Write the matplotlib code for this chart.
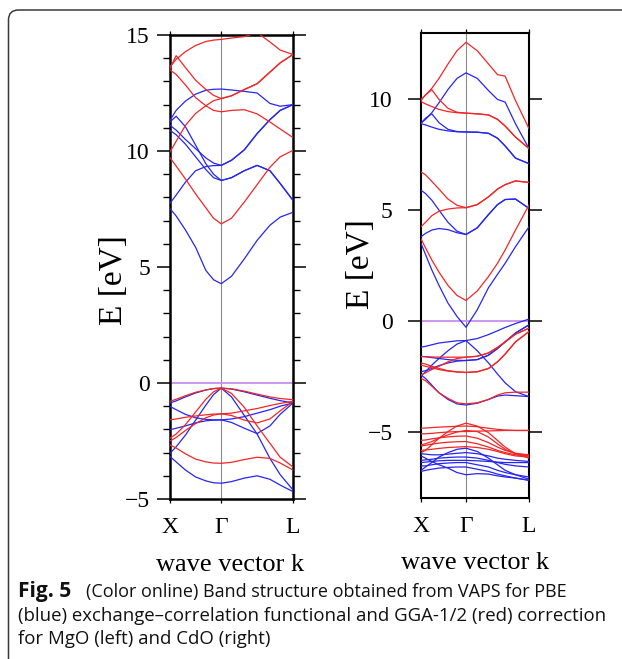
import numpy as np
import matplotlib
matplotlib.use("Agg")
import matplotlib.pyplot as plt
from matplotlib.path import Path
from matplotlib.patches import PathPatch
from matplotlib.transforms import IdentityTransform
from matplotlib.ticker import MultipleLocator

# k-path coordinates: X = 0, Gamma = 1, L = 2.4
k_mgo = [0, 0.12, 0.3, 0.5, 0.7, 0.85, 1.0, 1.2, 1.45, 1.7, 1.95, 2.15, 2.4]
k_cdo = [0, 0.1, 0.24, 0.4, 0.6, 0.8, 1.0, 1.25, 1.5, 1.7, 1.87, 2.1, 2.4]
k_ticks = [0, 1.0, 2.4]
k_labels = ["X", "Γ", "L"]

# MgO, PBE (blue)
mgo_pbe = [
    [7.51, 7.2, 6.6, 5.85, 4.85, 4.45, 4.28, 4.6, 5.35, 6.15, 6.8, 7.15, 7.36],
    [7.75, 8.1, 8.65, 9.15, 9.33, 9.37, 9.38, 9.6, 10.05, 10.75, 11.35, 11.75, 12.0],
    [11.11, 10.9, 10.5, 10.1, 9.7, 9.48, 9.38, 9.6, 10.05, 10.75, 11.35, 11.75, 12.0],
    [11.25, 11.5, 11.05, 10.25, 9.45, 9.0, 8.73, 8.85, 9.15, 9.38, 9.15, 8.6, 7.87],
    [10.89, 10.7, 10.3, 9.75, 9.2, 8.85, 8.73, 8.85, 9.15, 9.38, 9.15, 8.6, 7.87],
    [11.33, 11.75, 12.15, 12.45, 12.62, 12.66, 12.67, 12.63, 12.57, 12.5, 12.05, 11.93, 12.0],
    [-0.86, -0.77, -0.6, -0.43, -0.3, -0.24, -0.22, -0.26, -0.38, -0.52, -0.66, -0.76, -0.86],
    [-3.03, -2.75, -2.25, -1.6, -0.95, -0.5, -0.22, -0.6, -1.4, -2.2, -3.25, -3.95, -4.61],
    [-1.01, -1.15, -1.35, -1.5, -1.57, -1.59, -1.59, -1.7, -1.95, -2.18, -1.85, -1.35, -0.86],
    [-2.02, -1.95, -1.85, -1.72, -1.63, -1.6, -1.59, -1.55, -1.45, -1.3, -1.15, -1.0, -0.86],
    [-3.17, -3.4, -3.75, -4.05, -4.22, -4.3, -4.32, -4.25, -4.1, -4.0, -4.15, -4.4, -4.68],
]

# MgO, GGA-1/2 (red)
mgo_gga = [
    [13.63, 13.95, 14.28, 14.55, 14.72, 14.78, 14.81, 14.87, 14.93, 15.1, 14.7, 14.35, 14.16],
    [13.56, 14.11, 13.6, 13.05, 12.65, 12.4, 12.26, 12.38, 12.65, 12.9, 13.4, 13.8, 14.16],
    [13.49, 13.3, 12.85, 12.3, 11.95, 11.75, 11.69, 11.75, 11.78, 11.6, 11.25, 10.95, 10.58],
    [9.96, 10.42, 11.1, 11.62, 11.95, 12.17, 12.26, 12.38, 12.65, 12.9, 13.4, 13.8, 14.16],
    [9.71, 9.35, 8.8, 8.15, 7.55, 7.1, 6.86, 7.1, 7.8, 8.55, 9.3, 9.75, 10.03],
    [-0.79, -0.7, -0.55, -0.4, -0.3, -0.24, -0.22, -0.25, -0.35, -0.48, -0.6, -0.67, -0.72],
    [-2.38, -2.2, -1.8, -1.25, -0.7, -0.38, -0.22, -0.45, -1.05, -1.85, -2.6, -3.2, -3.62],
    [-1.59, -1.55, -1.48, -1.42, -1.37, -1.34, -1.33, -1.4, -1.6, -1.72, -1.55, -1.2, -0.79],
    [-2.5, -2.35, -2.05, -1.75, -1.5, -1.38, -1.33, -1.3, -1.2, -1.1, -0.97, -0.88, -0.79],
    [-2.67, -2.8, -3.05, -3.28, -3.4, -3.45, -3.46, -3.42, -3.3, -3.2, -3.25, -3.45, -3.75],
]

# CdO, PBE (blue)
cdo_pbe = [
    [8.93, 9.1, 9.4, 9.85, 10.45, 10.95, 11.2, 10.95, 10.4, 10.0, 9.88, 8.9, 7.78],
    [8.93, 9.15, 9.35, 8.95, 8.65, 8.55, 8.53, 8.52, 8.47, 8.25, 7.9, 7.35, 7.1],
    [8.9, 8.85, 8.75, 8.65, 8.58, 8.54, 8.53, 8.52, 8.47, 8.25, 7.9, 7.35, 7.1],
    [5.9, 5.75, 5.45, 5.0, 4.45, 4.05, 3.9, 4.2, 4.8, 5.25, 5.48, 5.5, 5.08],
    [3.8, 3.95, 4.1, 4.17, 4.12, 3.98, 3.9, 4.2, 4.8, 5.25, 5.48, 5.5, 5.08],
    [3.5, 3.0, 2.3, 1.6, 0.8, 0.2, -0.29, 0.5, 1.5, 2.1, 2.6, 3.35, 4.25],
    [-1.19, -1.15, -1.08, -1.0, -0.95, -0.9, -0.89, -0.8, -0.62, -0.45, -0.3, -0.12, 0.08],
    [-2.5, -2.3, -2.0, -1.7, -1.35, -1.05, -0.89, -1.35, -1.9, -2.4, -2.8, -3.2, -3.42],
    [-1.6, -1.62, -1.66, -1.7, -1.75, -1.78, -1.79, -1.75, -1.55, -1.25, -0.95, -0.55, -0.18],
    [-2.3, -2.25, -2.15, -2.02, -1.9, -1.82, -1.79, -1.75, -1.55, -1.25, -0.95, -0.55, -0.18],
    [-2.45, -2.6, -2.9, -3.25, -3.55, -3.75, -3.8, -3.72, -3.55, -3.4, -3.35, -3.38, -3.42],
    [-6.75, -6.6, -6.4, -6.15, -5.95, -5.8, -5.75, -5.9, -6.2, -6.5, -6.75, -6.95, -7.15],
    [-6.0, -6.02, -6.05, -6.05, -6.02, -5.98, -5.95, -6.0, -6.1, -6.2, -6.25, -6.3, -6.35],
    [-6.3, -6.28, -6.25, -6.2, -6.17, -6.15, -6.15, -6.2, -6.3, -6.4, -6.48, -6.55, -6.6],
    [-6.55, -6.55, -6.5, -6.45, -6.42, -6.4, -6.4, -6.5, -6.6, -6.75, -6.85, -6.95, -7.05],
    [-6.8, -6.75, -6.7, -6.65, -6.62, -6.6, -6.6, -6.7, -6.8, -6.92, -7.0, -7.1, -7.2],
    [-6.1, -6.2, -6.35, -6.5, -6.65, -6.85, -6.95, -6.9, -6.92, -7.0, -7.05, -7.1, -7.2],
    [-6.4, -6.38, -6.35, -6.32, -6.3, -6.3, -6.3, -6.32, -6.35, -6.38, -6.4, -6.4, -6.4],
]

# CdO, GGA-1/2 (red)
cdo_gga = [
    [10.0, 10.2, 10.5, 10.95, 11.6, 12.2, 12.58, 12.2, 11.6, 11.12, 11.05, 9.95, 8.68],
    [9.95, 10.2, 10.44, 10.0, 9.6, 9.42, 9.38, 9.35, 9.3, 9.1, 8.8, 8.3, 7.78],
    [9.9, 9.8, 9.68, 9.55, 9.45, 9.4, 9.38, 9.35, 9.3, 9.1, 8.8, 8.3, 7.78],
    [6.73, 6.6, 6.3, 5.95, 5.5, 5.22, 5.11, 5.25, 5.6, 5.95, 6.15, 6.32, 6.25],
    [4.25, 4.45, 4.75, 4.95, 5.05, 5.1, 5.11, 5.25, 5.6, 5.95, 6.15, 6.32, 6.25],
    [3.7, 3.3, 2.75, 2.2, 1.6, 1.15, 0.92, 1.35, 2.0, 2.6, 3.2, 4.1, 5.23],
    [-1.61, -1.62, -1.63, -1.64, -1.64, -1.64, -1.64, -1.6, -1.45, -1.2, -0.95, -0.6, -0.33],
    [-2.44, -2.35, -2.2, -2.05, -1.85, -1.7, -1.64, -1.6, -1.45, -1.2, -0.95, -0.6, -0.33],
    [-2.0, -2.05, -2.12, -2.2, -2.27, -2.31, -2.33, -2.3, -2.15, -1.85, -1.5, -0.95, -0.48],
    [-1.9, -1.95, -2.05, -2.15, -2.25, -2.3, -2.33, -2.3, -2.15, -1.85, -1.5, -0.95, -0.48],
    [-2.6, -2.7, -2.95, -3.25, -3.5, -3.7, -3.75, -3.7, -3.55, -3.35, -3.25, -3.22, -3.22],
    [-5.95, -5.85, -5.6, -5.3, -5.0, -4.75, -4.62, -4.75, -5.05, -5.4, -5.7, -6.0, -6.2],
    [-4.85, -4.84, -4.82, -4.8, -4.78, -4.76, -4.75, -4.78, -4.85, -4.9, -4.93, -4.95, -4.95],
    [-5.1, -5.1, -5.08, -5.05, -5.02, -5.0, -5.0, -4.98, -4.97, -4.96, -4.95, -4.95, -4.95],
    [-5.4, -5.38, -5.33, -5.28, -5.24, -5.21, -5.2, -5.3, -5.5, -5.7, -5.85, -5.98, -6.05],
    [-5.65, -5.62, -5.57, -5.52, -5.48, -5.46, -5.45, -5.55, -5.7, -5.85, -5.95, -6.05, -6.1],
    [-5.85, -5.83, -5.8, -5.76, -5.72, -5.7, -5.68, -5.72, -5.8, -5.9, -6.0, -6.1, -6.15],
    [-5.6, -5.55, -5.45, -5.3, -5.15, -5.02, -4.95, -5.0, -5.25, -5.55, -5.8, -6.0, -6.1],
]

BLUE = "#2626f0"
RED = "#f02626"
SERIF = "Liberation Serif"

W, H = 622, 659
fig = plt.figure(figsize=(W / 100, H / 100), dpi=100)


def px_box(x0, y0, x1, y1):
    # pixel box (top-left origin) -> figure fraction rect
    return [x0 / W, 1 - y1 / H, (x1 - x0) / W, (y1 - y0) / H]


def band_panel(ax, k, blue, red, ylim, minor, spine_w, ypad):
    for e in blue:
        ax.plot(k, e, color=BLUE, lw=0.9, solid_joinstyle="round", zorder=3)
    for e in red:
        ax.plot(k, e, color=RED, lw=0.9, solid_joinstyle="round", zorder=3)
    ax.axvline(1.0, color="#8a8a8a", lw=0.8, zorder=1)
    ax.axhline(0.0, color="#cc8cf0", lw=1.3, zorder=2)
    ax.set_xlim(0, 2.4)
    ax.set_ylim(*ylim)
    ax.set_xticks(k_ticks)
    ax.set_xticklabels(k_labels)
    ax.yaxis.set_major_locator(MultipleLocator(5))
    if minor:
        ax.yaxis.set_minor_locator(MultipleLocator(1))
    ax.tick_params(axis="y", which="major", direction="out", length=9.5,
                   width=1.1, right=True, pad=ypad, labelsize=17)
    ax.tick_params(axis="y", which="minor", direction="out", length=5,
                   width=1.0, right=True)
    ax.tick_params(axis="x", direction="out", length=3, width=0.9,
                   top=True, pad=10, labelsize=17)
    for lab in ax.get_xticklabels() + ax.get_yticklabels():
        lab.set_fontfamily(SERIF)
    for s in ax.spines.values():
        s.set_linewidth(spine_w)


ax1 = fig.add_axes(px_box(170, 35, 293, 499))
band_panel(ax1, k_mgo, mgo_pbe, mgo_gga, (-5, 15), True, 1.8, 5)
ax2 = fig.add_axes(px_box(421, 33, 529, 498))
band_panel(ax2, k_cdo, cdo_pbe, cdo_gga, (-8, 13), False, 1.5, 11)

# axis titles
fig.text(114 / W, 1 - 280 / H, "E [eV]", rotation=90, ha="center", va="center",
         fontfamily=SERIF, fontsize=24)
fig.text(361 / W, 1 - 264 / H, "E [eV]", rotation=90, ha="center", va="center",
         fontfamily=SERIF, fontsize=24)
fig.text(230 / W, 1 - 571 / H, "wave vector k", ha="center", va="baseline",
         fontfamily=SERIF, fontsize=19)
fig.text(475 / W, 1 - 569 / H, "wave vector k", ha="center", va="baseline",
         fontfamily=SERIF, fontsize=19)

# caption
cap = dict(fontfamily="Open Sans", va="baseline", ha="left", color="#111111")
fig.text(18 / W, 1 - 597 / H, "Fig. 5", fontweight="bold", fontsize=15, **cap)
fig.text(86 / W, 1 - 597 / H, "(Color online) Band structure obtained from VAPS for PBE",
         fontsize=13.0, **cap)
fig.text(18 / W, 1 - 621 / H,
         "(blue) exchange\u2013correlation functional and GGA-1/2 (red) correction",
         fontsize=13.4, **cap)
fig.text(18 / W, 1 - 644 / H, "for MgO (left) and CdO (right)", fontsize=13.4, **cap)

# rounded frame along the left and top edges
r = 10
frame = Path([(8.5, -5), (8.5, H - 10 - r), (8.5, H - 10), (8.5 + r, H - 10), (W + 5, H - 10)],
             [Path.MOVETO, Path.LINETO, Path.CURVE3, Path.CURVE3, Path.LINETO])
fig.add_artist(PathPatch(frame, fill=False, edgecolor="#3a3a3a", lw=1.1,
                         transform=IdentityTransform()))

fig.savefig("out.png", dpi=100)
